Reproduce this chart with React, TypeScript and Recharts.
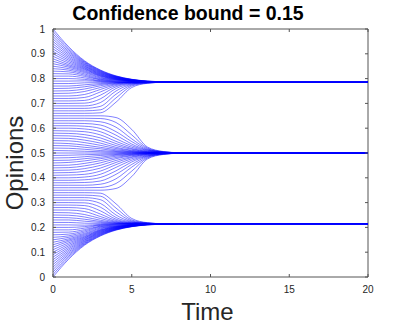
import React from "react";
import { LineChart, Line, XAxis, YAxis, ReferenceLine } from "recharts";

// time samples shared by every opinion path
const TIMES = [0, 1, 2, 3, 4, 5, 6, 7, 8, 9, 20];
const X_TICKS = [0, 5, 10, 15, 20];
const Y_TICKS = [0, 0.1, 0.2, 0.3, 0.4, 0.5, 0.6, 0.7, 0.8, 0.9, 1];

// agents that end up near 0.785 (start 1.00 down to 0.66)
const UPPER_PATHS = [
  [1.000, 0.928, 0.872, 0.835, 0.811, 0.797, 0.790, 0.787, 0.785, 0.785, 0.785],
  [0.990, 0.922, 0.869, 0.833, 0.810, 0.797, 0.790, 0.787, 0.785, 0.785, 0.785],
  [0.980, 0.916, 0.866, 0.831, 0.809, 0.796, 0.789, 0.787, 0.785, 0.785, 0.785],
  [0.970, 0.910, 0.863, 0.829, 0.808, 0.796, 0.789, 0.786, 0.785, 0.785, 0.785],
  [0.960, 0.904, 0.860, 0.827, 0.807, 0.795, 0.789, 0.786, 0.785, 0.785, 0.785],
  [0.950, 0.898, 0.857, 0.825, 0.806, 0.795, 0.788, 0.786, 0.785, 0.785, 0.785],
  [0.940, 0.892, 0.854, 0.823, 0.805, 0.794, 0.788, 0.786, 0.785, 0.785, 0.785],
  [0.930, 0.886, 0.851, 0.821, 0.804, 0.794, 0.788, 0.786, 0.785, 0.785, 0.785],
  [0.920, 0.880, 0.848, 0.819, 0.803, 0.793, 0.788, 0.786, 0.785, 0.785, 0.785],
  [0.910, 0.874, 0.845, 0.817, 0.802, 0.793, 0.787, 0.786, 0.785, 0.785, 0.785],
  [0.900, 0.868, 0.842, 0.815, 0.801, 0.792, 0.787, 0.786, 0.785, 0.785, 0.785],
  [0.890, 0.862, 0.839, 0.813, 0.800, 0.792, 0.787, 0.786, 0.785, 0.785, 0.785],
  [0.880, 0.856, 0.836, 0.811, 0.799, 0.791, 0.787, 0.785, 0.785, 0.785, 0.785],
  [0.870, 0.851, 0.832, 0.809, 0.798, 0.791, 0.787, 0.785, 0.785, 0.785, 0.785],
  [0.860, 0.846, 0.828, 0.806, 0.797, 0.790, 0.786, 0.785, 0.785, 0.785, 0.785],
  [0.850, 0.840, 0.824, 0.803, 0.796, 0.790, 0.786, 0.785, 0.785, 0.785, 0.785],
  [0.840, 0.834, 0.819, 0.800, 0.795, 0.789, 0.786, 0.785, 0.785, 0.785, 0.785],
  [0.830, 0.827, 0.814, 0.797, 0.793, 0.789, 0.786, 0.785, 0.785, 0.785, 0.785],
  [0.820, 0.819, 0.809, 0.795, 0.791, 0.788, 0.786, 0.785, 0.785, 0.785, 0.785],
  [0.810, 0.810, 0.803, 0.792, 0.790, 0.788, 0.786, 0.785, 0.785, 0.785, 0.785],
  [0.800, 0.800, 0.797, 0.790, 0.788, 0.787, 0.785, 0.785, 0.785, 0.785, 0.785],
  [0.790, 0.790, 0.791, 0.788, 0.787, 0.786, 0.785, 0.785, 0.785, 0.785, 0.785],
  [0.780, 0.780, 0.783, 0.784, 0.785, 0.785, 0.785, 0.785, 0.785, 0.785, 0.785],
  [0.770, 0.770, 0.775, 0.780, 0.784, 0.785, 0.785, 0.785, 0.785, 0.785, 0.785],
  [0.760, 0.761, 0.767, 0.776, 0.783, 0.785, 0.785, 0.785, 0.785, 0.785, 0.785],
  [0.750, 0.751, 0.758, 0.771, 0.781, 0.784, 0.785, 0.785, 0.785, 0.785, 0.785],
  [0.740, 0.741, 0.748, 0.764, 0.779, 0.784, 0.784, 0.785, 0.785, 0.785, 0.785],
  [0.730, 0.730, 0.736, 0.756, 0.776, 0.783, 0.784, 0.785, 0.785, 0.785, 0.785],
  [0.720, 0.720, 0.724, 0.746, 0.772, 0.782, 0.784, 0.785, 0.785, 0.785, 0.785],
  [0.710, 0.710, 0.712, 0.733, 0.767, 0.781, 0.784, 0.785, 0.785, 0.785, 0.785],
  [0.700, 0.700, 0.701, 0.718, 0.760, 0.779, 0.784, 0.785, 0.785, 0.785, 0.785],
  [0.690, 0.690, 0.690, 0.703, 0.750, 0.777, 0.784, 0.785, 0.785, 0.785, 0.785],
  [0.680, 0.680, 0.680, 0.688, 0.737, 0.774, 0.783, 0.785, 0.785, 0.785, 0.785],
  [0.670, 0.670, 0.670, 0.674, 0.722, 0.770, 0.782, 0.785, 0.785, 0.785, 0.785],
  [0.660, 0.660, 0.660, 0.662, 0.705, 0.764, 0.781, 0.785, 0.785, 0.785, 0.785],
];

// agents that end up at 0.5 (start 0.65 down to 0.35)
const MIDDLE_PATHS = [
  [0.650, 0.650, 0.650, 0.650, 0.643, 0.595, 0.524, 0.506, 0.501, 0.500, 0.500],
  [0.640, 0.640, 0.640, 0.639, 0.623, 0.573, 0.520, 0.505, 0.501, 0.500, 0.500],
  [0.630, 0.630, 0.630, 0.626, 0.604, 0.557, 0.517, 0.504, 0.501, 0.500, 0.500],
  [0.620, 0.620, 0.619, 0.613, 0.586, 0.546, 0.514, 0.504, 0.501, 0.500, 0.500],
  [0.610, 0.610, 0.608, 0.599, 0.572, 0.536, 0.512, 0.503, 0.500, 0.500, 0.500],
  [0.600, 0.600, 0.597, 0.586, 0.558, 0.529, 0.510, 0.503, 0.500, 0.500, 0.500],
  [0.590, 0.589, 0.586, 0.573, 0.547, 0.523, 0.508, 0.502, 0.500, 0.500, 0.500],
  [0.580, 0.579, 0.574, 0.561, 0.538, 0.518, 0.506, 0.502, 0.500, 0.500, 0.500],
  [0.570, 0.569, 0.563, 0.550, 0.530, 0.515, 0.505, 0.501, 0.500, 0.500, 0.500],
  [0.560, 0.559, 0.552, 0.540, 0.523, 0.511, 0.504, 0.501, 0.500, 0.500, 0.500],
  [0.550, 0.549, 0.542, 0.531, 0.518, 0.509, 0.503, 0.501, 0.500, 0.500, 0.500],
  [0.540, 0.538, 0.532, 0.523, 0.513, 0.506, 0.502, 0.501, 0.500, 0.500, 0.500],
  [0.530, 0.529, 0.523, 0.517, 0.509, 0.505, 0.502, 0.500, 0.500, 0.500, 0.500],
  [0.520, 0.519, 0.515, 0.510, 0.506, 0.503, 0.501, 0.500, 0.500, 0.500, 0.500],
  [0.510, 0.509, 0.507, 0.505, 0.503, 0.501, 0.500, 0.500, 0.500, 0.500, 0.500],
  [0.500, 0.500, 0.500, 0.500, 0.500, 0.500, 0.500, 0.500, 0.500, 0.500, 0.500],
  [0.490, 0.491, 0.493, 0.495, 0.497, 0.499, 0.500, 0.500, 0.500, 0.500, 0.500],
  [0.480, 0.481, 0.485, 0.490, 0.494, 0.497, 0.499, 0.500, 0.500, 0.500, 0.500],
  [0.470, 0.471, 0.477, 0.483, 0.491, 0.495, 0.498, 0.500, 0.500, 0.500, 0.500],
  [0.460, 0.462, 0.468, 0.477, 0.487, 0.494, 0.498, 0.499, 0.500, 0.500, 0.500],
  [0.450, 0.451, 0.458, 0.469, 0.482, 0.491, 0.497, 0.499, 0.500, 0.500, 0.500],
  [0.440, 0.441, 0.448, 0.460, 0.477, 0.489, 0.496, 0.499, 0.500, 0.500, 0.500],
  [0.430, 0.431, 0.437, 0.450, 0.470, 0.485, 0.495, 0.499, 0.500, 0.500, 0.500],
  [0.420, 0.421, 0.426, 0.439, 0.462, 0.482, 0.494, 0.498, 0.500, 0.500, 0.500],
  [0.410, 0.411, 0.414, 0.427, 0.453, 0.477, 0.492, 0.498, 0.500, 0.500, 0.500],
  [0.400, 0.400, 0.403, 0.414, 0.442, 0.471, 0.490, 0.497, 0.500, 0.500, 0.500],
  [0.390, 0.390, 0.392, 0.401, 0.428, 0.464, 0.488, 0.497, 0.500, 0.500, 0.500],
  [0.380, 0.380, 0.381, 0.387, 0.414, 0.454, 0.486, 0.496, 0.499, 0.500, 0.500],
  [0.370, 0.370, 0.370, 0.374, 0.396, 0.443, 0.483, 0.496, 0.499, 0.500, 0.500],
  [0.360, 0.360, 0.360, 0.361, 0.377, 0.427, 0.480, 0.495, 0.499, 0.500, 0.500],
  [0.350, 0.350, 0.350, 0.350, 0.357, 0.405, 0.476, 0.494, 0.499, 0.500, 0.500],
];

// agents that end up near 0.215 (start 0.00 up to 0.34)
const LOWER_PATHS = [
  [0.000, 0.072, 0.128, 0.165, 0.189, 0.203, 0.210, 0.213, 0.215, 0.215, 0.215],
  [0.010, 0.078, 0.131, 0.167, 0.190, 0.203, 0.210, 0.213, 0.215, 0.215, 0.215],
  [0.020, 0.084, 0.134, 0.169, 0.191, 0.204, 0.211, 0.213, 0.215, 0.215, 0.215],
  [0.030, 0.090, 0.137, 0.171, 0.192, 0.204, 0.211, 0.214, 0.215, 0.215, 0.215],
  [0.040, 0.096, 0.140, 0.173, 0.193, 0.205, 0.211, 0.214, 0.215, 0.215, 0.215],
  [0.050, 0.102, 0.143, 0.175, 0.194, 0.205, 0.212, 0.214, 0.215, 0.215, 0.215],
  [0.060, 0.108, 0.146, 0.177, 0.195, 0.206, 0.212, 0.214, 0.215, 0.215, 0.215],
  [0.070, 0.114, 0.149, 0.179, 0.196, 0.206, 0.212, 0.214, 0.215, 0.215, 0.215],
  [0.080, 0.120, 0.152, 0.181, 0.197, 0.207, 0.212, 0.214, 0.215, 0.215, 0.215],
  [0.090, 0.126, 0.155, 0.183, 0.198, 0.207, 0.213, 0.214, 0.215, 0.215, 0.215],
  [0.100, 0.132, 0.158, 0.185, 0.199, 0.208, 0.213, 0.214, 0.215, 0.215, 0.215],
  [0.110, 0.138, 0.161, 0.187, 0.200, 0.208, 0.213, 0.214, 0.215, 0.215, 0.215],
  [0.120, 0.144, 0.164, 0.189, 0.201, 0.209, 0.213, 0.215, 0.215, 0.215, 0.215],
  [0.130, 0.149, 0.168, 0.191, 0.202, 0.209, 0.213, 0.215, 0.215, 0.215, 0.215],
  [0.140, 0.154, 0.172, 0.194, 0.203, 0.210, 0.214, 0.215, 0.215, 0.215, 0.215],
  [0.150, 0.160, 0.176, 0.197, 0.204, 0.210, 0.214, 0.215, 0.215, 0.215, 0.215],
  [0.160, 0.166, 0.181, 0.200, 0.205, 0.211, 0.214, 0.215, 0.215, 0.215, 0.215],
  [0.170, 0.173, 0.186, 0.203, 0.207, 0.211, 0.214, 0.215, 0.215, 0.215, 0.215],
  [0.180, 0.181, 0.191, 0.205, 0.209, 0.212, 0.214, 0.215, 0.215, 0.215, 0.215],
  [0.190, 0.190, 0.197, 0.208, 0.210, 0.212, 0.214, 0.215, 0.215, 0.215, 0.215],
  [0.200, 0.200, 0.203, 0.210, 0.212, 0.213, 0.215, 0.215, 0.215, 0.215, 0.215],
  [0.210, 0.210, 0.209, 0.212, 0.213, 0.214, 0.215, 0.215, 0.215, 0.215, 0.215],
  [0.220, 0.220, 0.217, 0.216, 0.215, 0.215, 0.215, 0.215, 0.215, 0.215, 0.215],
  [0.230, 0.230, 0.225, 0.220, 0.216, 0.215, 0.215, 0.215, 0.215, 0.215, 0.215],
  [0.240, 0.239, 0.233, 0.224, 0.217, 0.215, 0.215, 0.215, 0.215, 0.215, 0.215],
  [0.250, 0.249, 0.242, 0.229, 0.219, 0.216, 0.215, 0.215, 0.215, 0.215, 0.215],
  [0.260, 0.259, 0.252, 0.236, 0.221, 0.216, 0.216, 0.215, 0.215, 0.215, 0.215],
  [0.270, 0.270, 0.264, 0.244, 0.224, 0.217, 0.216, 0.215, 0.215, 0.215, 0.215],
  [0.280, 0.280, 0.276, 0.254, 0.228, 0.218, 0.216, 0.215, 0.215, 0.215, 0.215],
  [0.290, 0.290, 0.288, 0.267, 0.233, 0.219, 0.216, 0.215, 0.215, 0.215, 0.215],
  [0.300, 0.300, 0.299, 0.282, 0.240, 0.221, 0.216, 0.215, 0.215, 0.215, 0.215],
  [0.310, 0.310, 0.310, 0.297, 0.250, 0.223, 0.216, 0.215, 0.215, 0.215, 0.215],
  [0.320, 0.320, 0.320, 0.312, 0.263, 0.226, 0.217, 0.215, 0.215, 0.215, 0.215],
  [0.330, 0.330, 0.330, 0.326, 0.278, 0.230, 0.218, 0.215, 0.215, 0.215, 0.215],
  [0.340, 0.340, 0.340, 0.338, 0.295, 0.236, 0.219, 0.215, 0.215, 0.215, 0.215],
];

const ALL_PATHS = [...LOWER_PATHS, ...MIDDLE_PATHS, ...UPPER_PATHS];

const chartData = TIMES.map((t, k) => {
  const row: Record<string, number> = { t };
  ALL_PATHS.forEach((p, i) => {
    row[`a${i}`] = p[k];
  });
  return row;
});

const W = 407;
const H = 326;
const PLOT = { left: 53, right: 368, top: 29, bottom: 277 };
const Y_AXIS_W = 30;
const X_AXIS_H = 30;
const TEXT_COLOR = "#262626";
const AXIS_COLOR = "#555555";
const FONT = '"Liberation Sans", Arial, Helvetica, sans-serif';
const TICK_LEN = 3;

function XTick({ x, payload }: any) {
  return (
    <g>
      <line x1={x} x2={x} y1={PLOT.bottom} y2={PLOT.bottom - TICK_LEN} stroke={AXIS_COLOR} />
      <line x1={x} x2={x} y1={PLOT.top} y2={PLOT.top + TICK_LEN} stroke={AXIS_COLOR} />
      <text x={x} y={292.5} textAnchor="middle" fontSize={10} fontFamily={FONT} fill={TEXT_COLOR}>
        {payload.value}
      </text>
    </g>
  );
}

function YTick({ y, payload }: any) {
  return (
    <g>
      <line x1={PLOT.left} x2={PLOT.left + TICK_LEN} y1={y} y2={y} stroke={AXIS_COLOR} />
      <line x1={PLOT.right} x2={PLOT.right - TICK_LEN} y1={y} y2={y} stroke={AXIS_COLOR} />
      <text x={45} y={y + 3.6} textAnchor="end" fontSize={10} fontFamily={FONT} fill={TEXT_COLOR}>
        {payload.value}
      </text>
    </g>
  );
}

export default function App() {
  return (
    <div style={{ position: "absolute", left: 0, top: 0, width: W, height: H, background: "#fff" }}>
      <LineChart
        width={W}
        height={H}
        data={chartData}
        margin={{
          top: PLOT.top,
          right: W - PLOT.right,
          bottom: H - PLOT.bottom - X_AXIS_H,
          left: PLOT.left - Y_AXIS_W,
        }}
      >
        <XAxis
          dataKey="t"
          type="number"
          domain={[0, 20]}
          ticks={X_TICKS}
          height={X_AXIS_H}
          tickLine={false}
          axisLine={{ stroke: AXIS_COLOR }}
          tick={<XTick />}
          interval={0}
        />
        <YAxis
          type="number"
          domain={[0, 1]}
          ticks={Y_TICKS}
          width={Y_AXIS_W}
          tickLine={false}
          axisLine={{ stroke: AXIS_COLOR }}
          tick={<YTick />}
          interval={0}
        />
        <ReferenceLine y={1} stroke={AXIS_COLOR} />
        <ReferenceLine x={20} stroke={AXIS_COLOR} />
        {ALL_PATHS.map((_, i) => (
          <Line
            key={i}
            dataKey={`a${i}`}
            type="monotone"
            stroke="#0000ff"
            strokeWidth={0.5}
            dot={false}
            activeDot={false}
            isAnimationActive={false}
          />
        ))}
      </LineChart>
      <svg
        width={W}
        height={H}
        style={{ position: "absolute", left: 0, top: 0, pointerEvents: "none" }}
      >
        <text x={188} y={20} textAnchor="middle" fontSize={19.5} fontWeight="bold" fontFamily={FONT} fill="#000">
          Confidence bound = 0.15
        </text>
        <text x={207.5} y={320} textAnchor="middle" fontSize={24} fontFamily={FONT} fill={TEXT_COLOR}>
          Time
        </text>
        <text
          x={0}
          y={0}
          transform="translate(23.3,163) rotate(-90)"
          textAnchor="middle"
          fontSize={24}
          fontFamily={FONT}
          fill={TEXT_COLOR}
        >
          Opinions
        </text>
      </svg>
    </div>
  );
}
